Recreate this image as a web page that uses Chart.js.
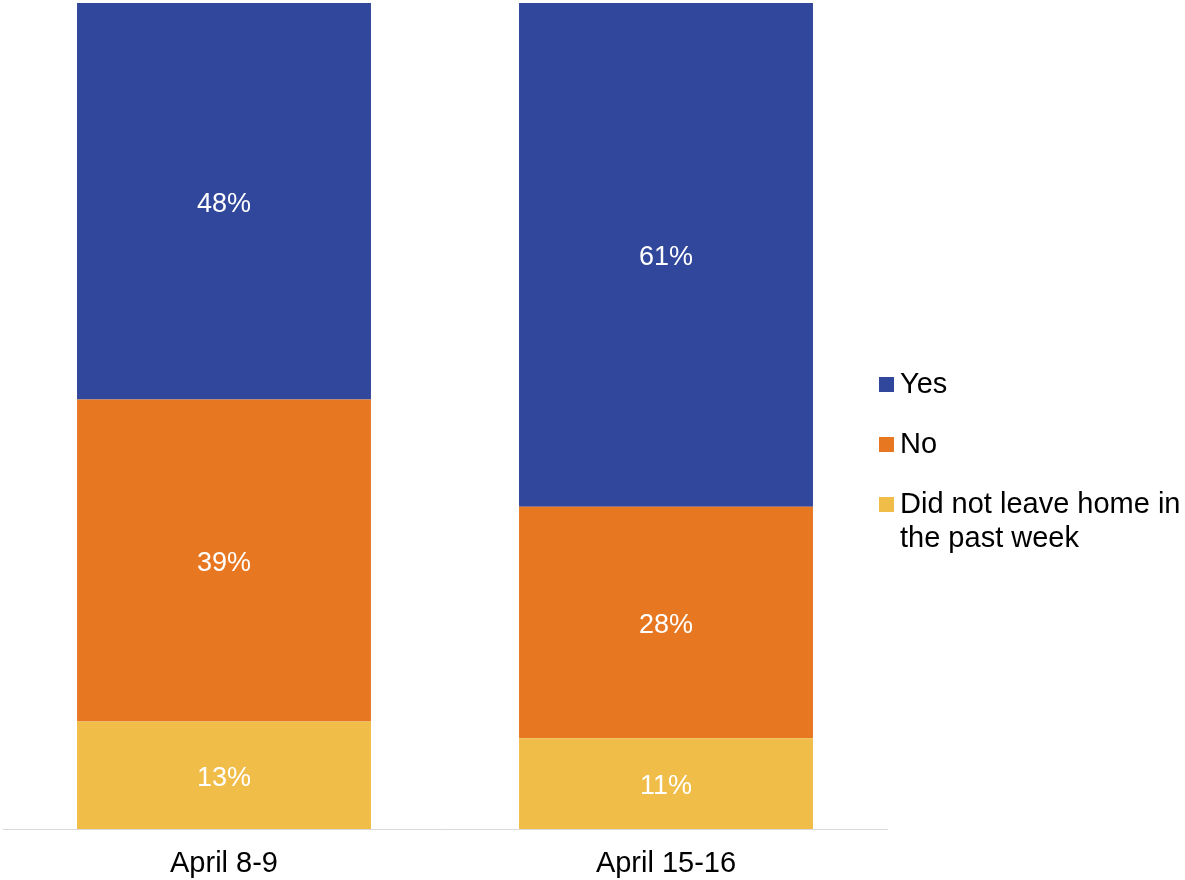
<!DOCTYPE html>
<html>
<head>
<meta charset="utf-8">
<script src="https://cdn.jsdelivr.net/npm/chart.js@4.4.1/dist/chart.umd.min.js"></script>
<style>
  html, body { margin: 0; padding: 0; background: #ffffff; }
  #wrap { width: 1185px; height: 880px; position: relative; }
</style>
</head>
<body>
<div id="wrap"><canvas id="c" width="1185" height="880"></canvas></div>
<script>
const categories = ['April 8-9', 'April 15-16'];
const yesValues = [48, 61];
const noValues = [39, 28];
const didNotLeaveValues = [13, 11];
const seriesNames = ['Yes', 'No', 'Did not leave home in the past week'];
const legendLines = [['Yes'], ['No'], ['Did not leave home in', 'the past week']];
const colors = { yes: '#30479B', no: '#E77720', stay: '#F0BD49' };
const FONT = '"Liberation Sans", Arial, Helvetica, sans-serif';

const dataLabelPlugin = {
  id: 'dataLabels',
  afterDatasetsDraw(chart) {
    const ctx = chart.ctx;
    ctx.save();
    ctx.font = '27px ' + FONT;
    ctx.fillStyle = '#ffffff';
    ctx.textAlign = 'center';
    ctx.textBaseline = 'middle';
    chart.data.datasets.forEach((ds, di) => {
      const meta = chart.getDatasetMeta(di);
      meta.data.forEach((bar, i) => {
        const p = bar.getProps(['x', 'y', 'base'], true);
        ctx.fillText(ds.data[i] + '%', p.x, (p.y + p.base) / 2 + 3);
      });
    });
    ctx.restore();
  }
};

const customLegendPlugin = {
  id: 'customLegend',
  afterDraw(chart) {
    const ctx = chart.ctx;
    ctx.save();
    ctx.font = '29px ' + FONT;
    ctx.textBaseline = 'middle';
    ctx.textAlign = 'left';
    const order = [colors.yes, colors.no, colors.stay];
    const centers = [384, 444, 504];
    const boxX = chart.chartArea.right - 8;
    order.forEach((col, k) => {
      const cy = centers[k];
      ctx.fillStyle = col;
      ctx.fillRect(boxX, cy - 7, 15, 15);
      ctx.fillStyle = '#000000';
      legendLines[k].forEach((line, li) => {
        ctx.fillText(line, boxX + 21, cy + 1 + li * 34);
      });
    });
    ctx.restore();
  }
};

new Chart(document.getElementById('c'), {
  type: 'bar',
  data: {
    labels: categories,
    datasets: [
      { label: seriesNames[2], data: didNotLeaveValues, backgroundColor: colors.stay },
      { label: seriesNames[1], data: noValues, backgroundColor: colors.no },
      { label: seriesNames[0], data: yesValues, backgroundColor: colors.yes }
    ]
  },
  options: {
    responsive: false,
    animation: false,
    devicePixelRatio: 1,
    layout: { padding: { left: 3, top: 3, right: 298, bottom: 0 } },
    datasets: { bar: { categoryPercentage: 1.0, barPercentage: 0.665, borderWidth: 0 } },
    scales: {
      x: {
        stacked: true,
        grid: { display: false, drawTicks: false },
        border: { display: true, color: '#d9d9d9', width: 1 },
        ticks: { color: '#000000', font: { family: FONT, size: 29 }, padding: 18 },
        afterFit(scale) { scale.height = 51; }
      },
      y: {
        stacked: true,
        display: false,
        min: 0,
        max: 100
      }
    },
    plugins: {
      legend: { display: false },
      tooltip: { enabled: false }
    }
  },
  plugins: [dataLabelPlugin, customLegendPlugin]
});
</script>
</body>
</html>
